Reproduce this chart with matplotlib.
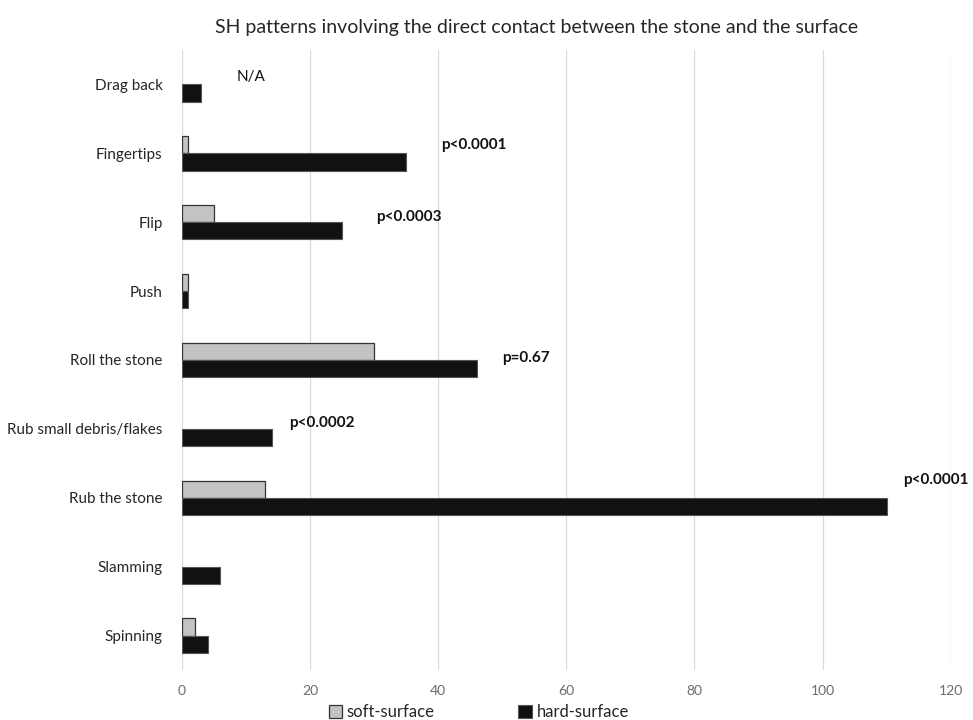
import matplotlib
matplotlib.use("Agg")
import matplotlib.pyplot as plt
from matplotlib.patches import Patch
import numpy as np

categories = ["Drag back", "Fingertips", "Flip", "Push", "Roll the stone",
              "Rub small debris/flakes", "Rub the stone", "Slamming", "Spinning"]
soft_surface = [0, 1, 5, 1, 30, 0, 13, 0, 2]
hard_surface = [3, 35, 25, 1, 46, 14, 110, 6, 4]
series_names = ["soft-surface", "hard-surface"]
x_ticks = [0, 20, 40, 60, 80, 100, 120]
annotations = ["N/A", "p<0.0001", "p<0.0003", "p=0.67", "p<0.0002", "p<0.0001"]
annotation_pos = [(8.6, -0.11), (40.4, 0.88), (30.3, 1.92), (50.0, 3.97), (16.7, 4.91), (112.6, 5.74)]
annotation_bold = [False, True, True, True, True, True]

plt.rcParams['font.family'] = ['Lato', 'DejaVu Sans']

fig = plt.figure(figsize=(9.73, 7.2), dpi=100)
ax = fig.add_axes([0.187, 0.0694, 0.790, 0.8612])

soft_color, soft_edge = "#c3c3c3", "#333333"
hard_color, hard_edge = "#111111", "#555555"

y = np.arange(len(categories))
h = 0.25
soft_lw = [0.9 if v > 0 else 0 for v in soft_surface]
hard_lw = [0.8 if v > 0 else 0 for v in hard_surface]
ax.barh(y - h / 2, soft_surface, height=h, color=soft_color, edgecolor=soft_edge,
        linewidth=soft_lw, zorder=3)
ax.barh(y + h / 2, hard_surface, height=h, color=hard_color, edgecolor=hard_edge,
        linewidth=hard_lw, zorder=3)

ax.set_ylim(len(categories) - 0.5, -0.5)
ax.set_xlim(0, 120)
ax.set_xticks(x_ticks)
ax.set_xticklabels([str(t) for t in x_ticks], color="#6b6b6b", fontsize=10)
ax.set_yticks(y)
ax.set_yticklabels(categories, color="#262626", fontsize=11)
ax.tick_params(axis="both", length=0)
ax.tick_params(axis="x", pad=11)
ax.tick_params(axis="y", pad=14)
for s in ax.spines.values():
    s.set_visible(False)
ax.grid(axis="x", color="#dadada", linewidth=0.9, zorder=0)
ax.set_axisbelow(True)

for txt, (xx, yy), b in zip(annotations, annotation_pos, annotation_bold):
    ax.text(xx, yy, txt, fontsize=11, fontweight="bold" if b else "normal",
            color="#111111", ha="left", va="center", zorder=4)

fig.text(0.551, 0.962, "SH patterns involving the direct contact between the stone and the surface",
         ha="center", va="center", fontsize=14, color="#262626")

handles = [Patch(facecolor=soft_color, edgecolor=soft_edge, linewidth=0.9, label=series_names[0]),
           Patch(facecolor=hard_color, edgecolor=hard_edge, linewidth=0.8, label=series_names[1])]
leg = fig.legend(handles=handles, loc="center", bbox_to_anchor=(0.492, 0.011), ncol=2, frameon=False,
                 fontsize=12, handlelength=0.8, handleheight=0.8, columnspacing=5.0,
                 handletextpad=0.3)
for t in leg.get_texts():
    t.set_color("#262626")

fig.savefig("out.png", dpi=100)
